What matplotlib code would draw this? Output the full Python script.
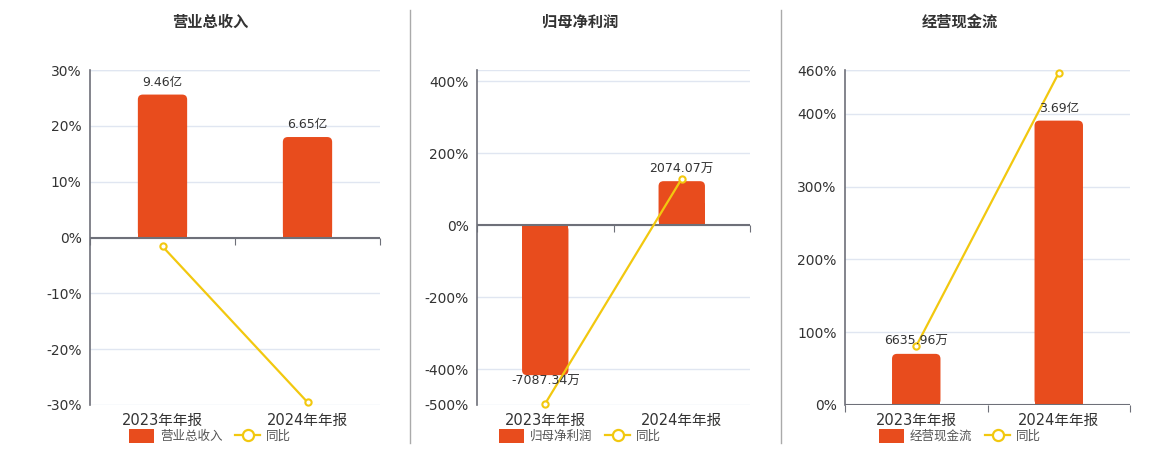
import matplotlib
matplotlib.use("Agg")
import matplotlib.pyplot as plt
import matplotlib.transforms as mtransforms
from matplotlib.patches import FancyBboxPatch, Rectangle, Patch
from matplotlib.lines import Line2D

plt.rcParams['font.family'] = ['DejaVu Sans', 'Noto Sans CJK SC']

categories = ["2023年年报", "2024年年报"]
titles = ["营业总收入", "归母净利润", "经营现金流"]

# bar values in 万元, labels as shown
revenue = [94600, 66500]
revenue_labels = ["9.46亿", "6.65亿"]
profit = [-7087.34, 2074.07]
profit_labels = ["-7087.34万", "2074.07万"]
cashflow = [6635.96, 36900]
cashflow_labels = ["6635.96万", "3.69亿"]

# 同比 (%)
revenue_yoy = [-1.6, -29.5]
profit_yoy = [-496, 129]
cashflow_yoy = [81, 456]

bar_c = "#e84c1d"
line_c = "#f2c80f"
axis_c = "#6e7079"
grid_c = "#e0e6f1"
text_c = "#333333"

W, H = 1160, 450
fig = plt.figure(figsize=(W / 100, H / 100), dpi=100)

panels = [
    dict(box=(90, 380), ylim=(-30, 30), ticks=[-30, -20, -10, 0, 10, 20, 30],
         k=94600 / 25.6, bars=revenue, labels=revenue_labels, yoy=revenue_yoy, cx=210),
    dict(box=(477, 750), ylim=(-500, 431), ticks=[-500, -400, -200, 0, 200, 400],
         k=7087.34 / 417, bars=profit, labels=profit_labels, yoy=profit_yoy, cx=580),
    dict(box=(845, 1130), ylim=(0, 460), ticks=[0, 100, 200, 300, 400, 460],
         k=36900 / 390.5, bars=cashflow, labels=cashflow_labels, yoy=cashflow_yoy, cx=960),
]

top_px, bot_px = 70, 405
for p, title in zip(panels, titles):
    x0, x1 = p["box"]
    ax = fig.add_axes([x0 / W, 1 - bot_px / H, (x1 - x0) / W, (bot_px - top_px) / H])
    lo, hi = p["ylim"]
    ax.set_xlim(-0.5, 1.5)
    ax.set_ylim(lo, hi)
    k = p["k"]
    tr = mtransforms.Affine2D().scale(1, 1 / k) + ax.transData

    # grid
    for t in p["ticks"]:
        ax.axhline(t, color=grid_c, lw=1, zorder=0)
    ax.axhline(hi, color=grid_c, lw=1, zorder=0)

    # bars with rounded outer end
    bw = 0.34
    xpp = 2 / (x1 - x0)
    ypp = (hi - lo) * k / (bot_px - top_px)
    r = 5 * xpp
    for i, v in enumerate(p["bars"]):
        y0 = min(0, v)
        h = abs(v)
        ax.add_patch(FancyBboxPatch((i - bw / 2, y0), bw, h,
                                    boxstyle=f"round,pad=0,rounding_size={r}",
                                    mutation_aspect=ypp / xpp, fc=bar_c, ec="none",
                                    transform=tr, zorder=2))
        ax.add_patch(Rectangle((i - bw / 2, 0), bw, v / 2, fc=bar_c, ec="none",
                               transform=tr, zorder=2))
        off = 4 if v >= 0 else 0
        ax.annotate(p["labels"][i], (i, v), xycoords=tr, xytext=(0, off),
                    textcoords="offset points", ha="center",
                    va="bottom" if v >= 0 else "top", fontsize=9, color=text_c, zorder=5)

    ax.plot([0, 1], p["yoy"], color=line_c, lw=1.6, marker="o", ms=4.5,
            mfc="white", mec=line_c, mew=1.5, zorder=4, clip_on=False)

    ax.axhline(0, color=axis_c, lw=1.5, zorder=3)
    for s in ["top", "right"]:
        ax.spines[s].set_visible(False)
    ax.spines["left"].set_color(axis_c)
    ax.spines["left"].set_linewidth(1.2)
    ax.spines["bottom"].set_visible(False)
    ax.set_xticks([-0.5, 0.5, 1.5])
    ax.set_xticklabels(["", "", ""])
    ax.tick_params(axis="x", length=5, color=axis_c, direction="out")
    ax.xaxis.set_ticks_position("bottom")
    ax.set_yticks(p["ticks"])
    ax.set_yticklabels([f"{t}%" for t in p["ticks"]])
    ax.tick_params(axis="y", length=0, pad=6, labelsize=10, labelcolor=text_c)
    # move x tick marks to the zero line
    for tl in ax.xaxis.get_major_ticks():
        tl.tick1line.set_transform(ax.transData)
        tl.tick1line.set_ydata([0])
    for i, c in enumerate(categories):
        ax.text(i, -0.025, c, transform=mtransforms.blended_transform_factory(ax.transData, ax.transAxes),
                ha="center", va="top", fontsize=10.5, color=text_c)

    fig.text(p["cx"] / W, 1 - 22 / H, title, ha="center", va="center",
             fontsize=11, fontweight="bold", color=text_c)

    handles = [Patch(fc=bar_c, ec="none"),
               Line2D([], [], color=line_c, lw=1.6, marker="o", ms=8, mfc="white", mec=line_c, mew=1.6)]
    leg = fig.legend(handles, [title, "同比"], loc="center", ncol=2, frameon=False,
                     bbox_to_anchor=(p["cx"] / W, 1 - 436 / H), fontsize=9,
                     handlelength=2.0, handleheight=1.3, columnspacing=1.0, handletextpad=0.5)
    for t in leg.get_texts():
        t.set_color("#555555")

for xs in [410, 781]:
    fig.add_artist(Line2D([xs / W, xs / W], [1 - 443 / H, 1 - 10 / H], color="#aaaaaa", lw=1))

fig.savefig("out.png", dpi=100)
